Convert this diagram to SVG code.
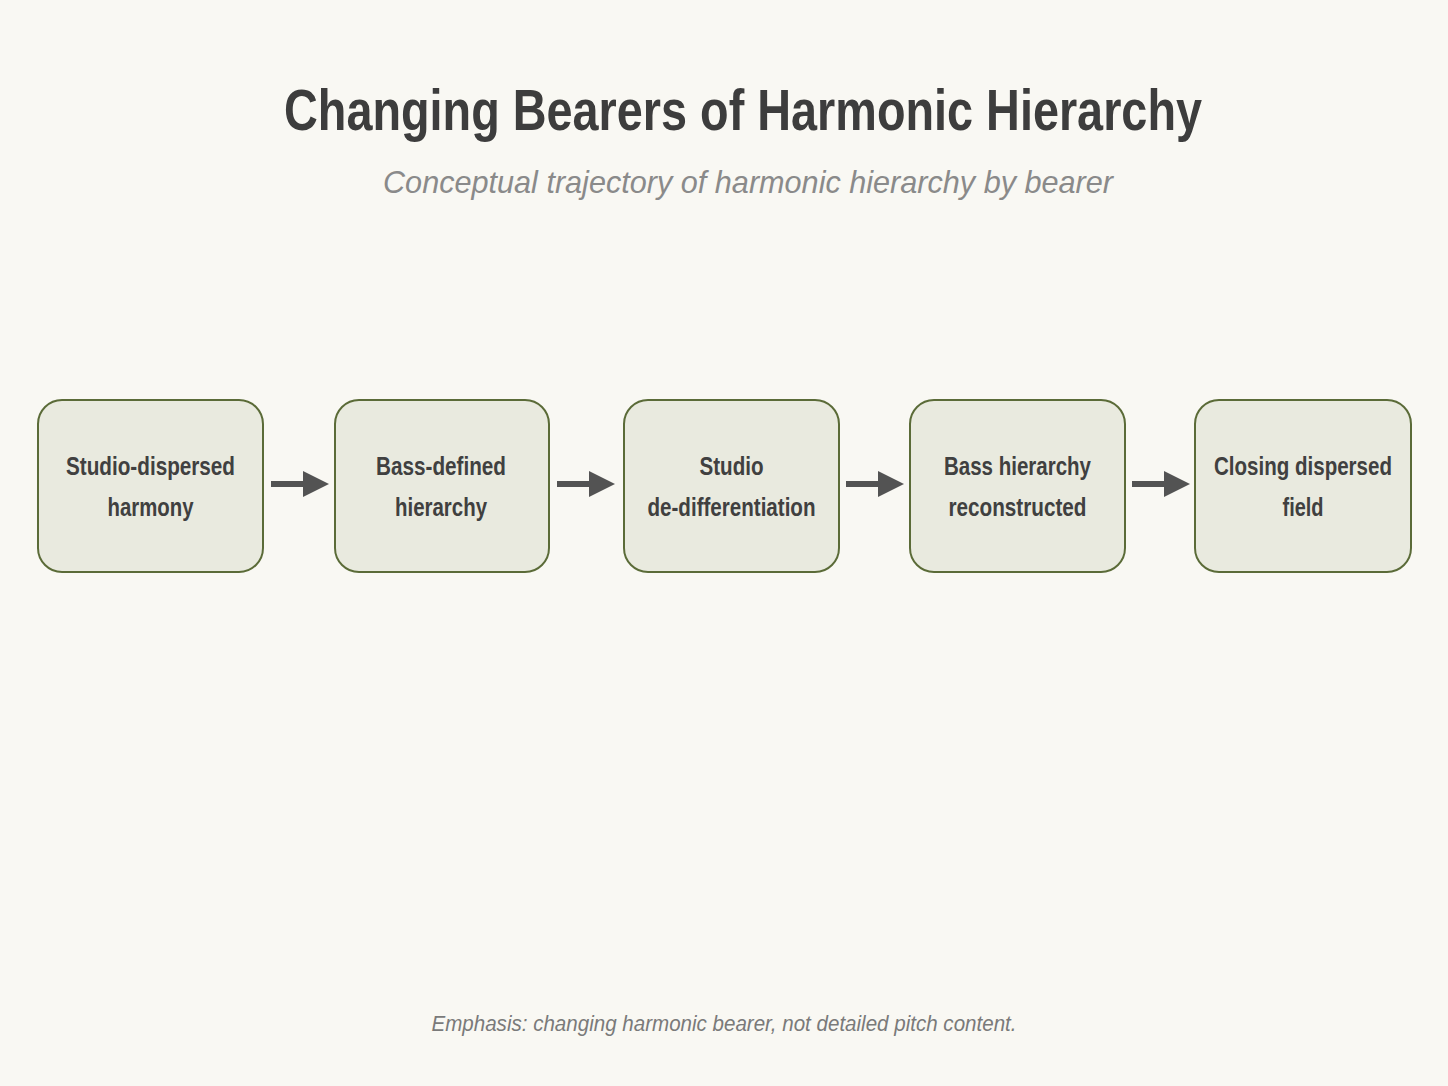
<svg xmlns="http://www.w3.org/2000/svg" width="1448" height="1086" viewBox="0 0 1448 1086">
<style>
.bg{fill:#f9f8f3}
.box{fill:#e9eadf;stroke:#5b6b38;stroke-width:2}
.lbl{font-family:"Liberation Sans Narrow","Liberation Sans",Arial,sans-serif;font-weight:bold;font-size:25px;fill:#404040;text-anchor:middle}
.title{font-family:"Liberation Sans Narrow","Liberation Sans",Arial,sans-serif;font-weight:bold;font-size:58px;fill:#3d3d3d;text-anchor:middle}
.sub{font-family:"Liberation Sans","Liberation Sans Narrow",Arial,sans-serif;font-style:italic;font-size:32px;fill:#8a8a8a;text-anchor:middle}
.foot{font-family:"Liberation Sans","Liberation Sans Narrow",Arial,sans-serif;font-style:italic;font-size:22px;fill:#7a7a7a;text-anchor:middle}
.conn{stroke:#535353;stroke-width:6;fill:none;marker-end:url(#ah)}
</style>
<defs>
<marker id="ah" markerUnits="userSpaceOnUse" markerWidth="28" markerHeight="28" refX="6" refY="14" orient="auto">
<path d="M0,1 L26,14 L0,27 Z" fill="#535353"/>
</marker>
</defs>
<rect class="bg" x="0" y="0" width="1448" height="1086"/>
<text class="title" x="743" y="130" textLength="918" lengthAdjust="spacingAndGlyphs">Changing Bearers of Harmonic Hierarchy</text>
<text class="sub" x="748" y="193" textLength="730" lengthAdjust="spacingAndGlyphs">Conceptual trajectory of harmonic hierarchy by bearer</text>
<g id="n1"><rect class="box" x="38" y="400" width="225" height="172" rx="24"/><text class="lbl" x="150.5" y="475" textLength="169" lengthAdjust="spacingAndGlyphs">Studio-dispersed</text><text class="lbl" x="150.5" y="516" textLength="86" lengthAdjust="spacingAndGlyphs">harmony</text></g>
<g id="n2"><rect class="box" x="335" y="400" width="214" height="172" rx="24"/><text class="lbl" x="441" y="475" textLength="130" lengthAdjust="spacingAndGlyphs">Bass-defined</text><text class="lbl" x="441" y="516" textLength="92" lengthAdjust="spacingAndGlyphs">hierarchy</text></g>
<g id="n3"><rect class="box" x="624" y="400" width="215" height="172" rx="24"/><text class="lbl" x="731.5" y="475" textLength="64" lengthAdjust="spacingAndGlyphs">Studio</text><text class="lbl" x="731.5" y="516" textLength="168" lengthAdjust="spacingAndGlyphs">de-differentiation</text></g>
<g id="n4"><rect class="box" x="910" y="400" width="215" height="172" rx="24"/><text class="lbl" x="1017.5" y="475" textLength="147" lengthAdjust="spacingAndGlyphs">Bass hierarchy</text><text class="lbl" x="1017.5" y="516" textLength="138" lengthAdjust="spacingAndGlyphs">reconstructed</text></g>
<g id="n5"><rect class="box" x="1195" y="400" width="216" height="172" rx="24"/><text class="lbl" x="1303" y="475" textLength="178" lengthAdjust="spacingAndGlyphs">Closing dispersed</text><text class="lbl" x="1303" y="516" textLength="41" lengthAdjust="spacingAndGlyphs">field</text></g>
<g id="connectors">
<line class="conn" x1="271" y1="484" x2="309" y2="484"/>
<line class="conn" x1="557" y1="484" x2="595" y2="484"/>
<line class="conn" x1="846" y1="484" x2="884" y2="484"/>
<line class="conn" x1="1132" y1="484" x2="1170" y2="484"/>
</g>
<text class="foot" x="724" y="1031" textLength="585" lengthAdjust="spacingAndGlyphs">Emphasis: changing harmonic bearer, not detailed pitch content.</text>
</svg>
